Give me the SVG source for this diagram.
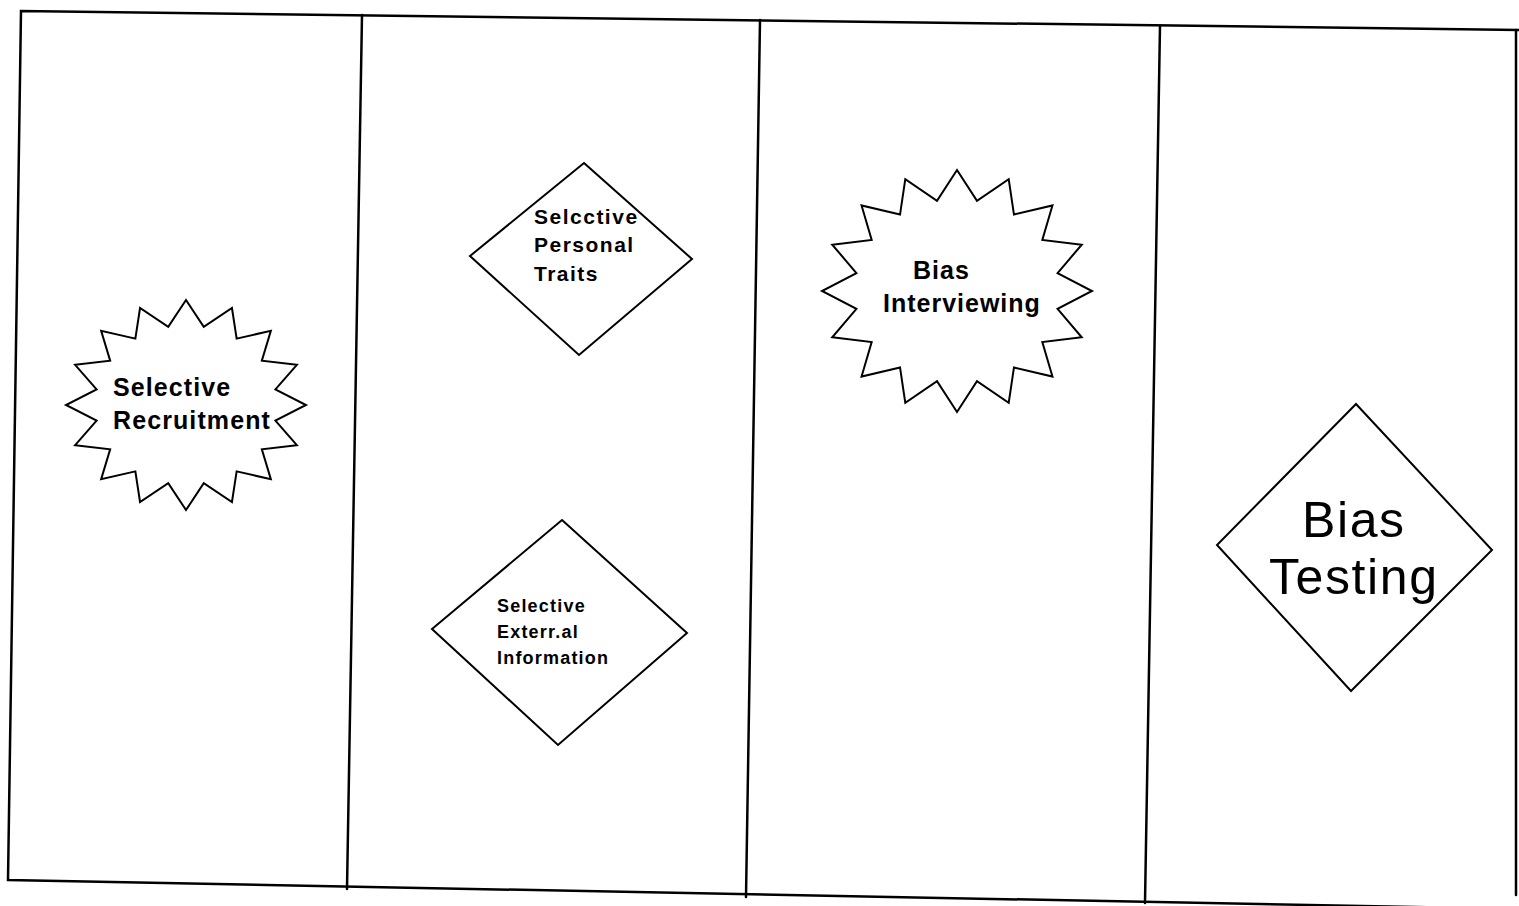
<svg xmlns="http://www.w3.org/2000/svg" xmlns:xlink="http://www.w3.org/1999/xlink" width="1519" height="906" viewBox="0 0 1519 906">
<style>
.frame{fill:none;stroke:#000;stroke-width:2.5;stroke-linecap:round}
.shape{fill:#fff;stroke:#000;stroke-width:2;stroke-linejoin:miter}
.lbl{font-family:"Liberation Sans",Arial,sans-serif;font-weight:bold;fill:#000}
.big{font-family:"Liberation Sans",Arial,sans-serif;font-weight:normal;fill:#000}
</style>
<defs>
<polygon id="star" vector-effect="non-scaling-stroke" points="0,-100 14.8,-74.5 38.3,-92.4 42.2,-63.2 70.7,-70.7 63.2,-42.2 92.4,-38.3 74.5,-14.8 100,0 74.5,14.8 92.4,38.3 63.2,42.2 70.7,70.7 42.2,63.2 38.3,92.4 14.8,74.5 0,100 -14.8,74.5 -38.3,92.4 -42.2,63.2 -70.7,70.7 -63.2,42.2 -92.4,38.3 -74.5,14.8 -100,0 -74.5,-14.8 -92.4,-38.3 -63.2,-42.2 -70.7,-70.7 -42.2,-63.2 -38.3,-92.4 -14.8,-74.5"/>
</defs>
<rect width="1519" height="906" fill="#fff"/>
<g id="frame">
<polyline class="frame" points="1519,30 21,11 8,880 1519,909"/>
<line class="frame" x1="1516" y1="30" x2="1516" y2="895"/>
<line class="frame" x1="362" y1="15" x2="347" y2="889"/>
<line class="frame" x1="760" y1="20" x2="746" y2="897"/>
<line class="frame" x1="1160" y1="26" x2="1145" y2="903"/>
</g>
<g id="connectors"></g>
<g id="selective-recruitment">
<use xlink:href="#star" class="shape" transform="translate(186,405) scale(1.2,1.05)"/>
<text class="lbl" font-size="25" x="113" y="396" letter-spacing="1.1">Selective</text>
<text class="lbl" font-size="25" x="113" y="429" letter-spacing="1.1">Recruitment</text>
</g>
<g id="selective-personal-traits">
<polygon class="shape" points="584,163 692,259 579,355 470,256"/>
<text class="lbl" font-size="21" x="534" y="224" letter-spacing="1.5">Selcctive</text>
<text class="lbl" font-size="21" x="534" y="252" letter-spacing="1.5">Personal</text>
<text class="lbl" font-size="21" x="534" y="281" letter-spacing="1.5">Traits</text>
</g>
<g id="selective-external-information">
<polygon class="shape" points="562,520 687,633 558,745 432,629"/>
<text class="lbl" font-size="18" x="497" y="612" letter-spacing="1.2">Selective</text>
<text class="lbl" font-size="18" x="497" y="638" letter-spacing="1.2">Exterr.al</text>
<text class="lbl" font-size="18" x="497" y="664" letter-spacing="1.2">Information</text>
</g>
<g id="bias-interviewing">
<use xlink:href="#star" class="shape" transform="translate(957,291) scale(1.35,1.21)"/>
<text class="lbl" font-size="25" x="913" y="279" letter-spacing="1">Bias</text>
<text class="lbl" font-size="25" x="883" y="312" letter-spacing="1">Interviewing</text>
</g>
<g id="bias-testing">
<polygon class="shape" points="1356,404 1492,550 1351,691 1217,545"/>
<text class="big" font-size="50" x="1302" y="537" letter-spacing="1.6">Bias</text>
<text class="big" font-size="50" x="1269" y="594" letter-spacing="1.6">Testing</text>
</g>
</svg>
